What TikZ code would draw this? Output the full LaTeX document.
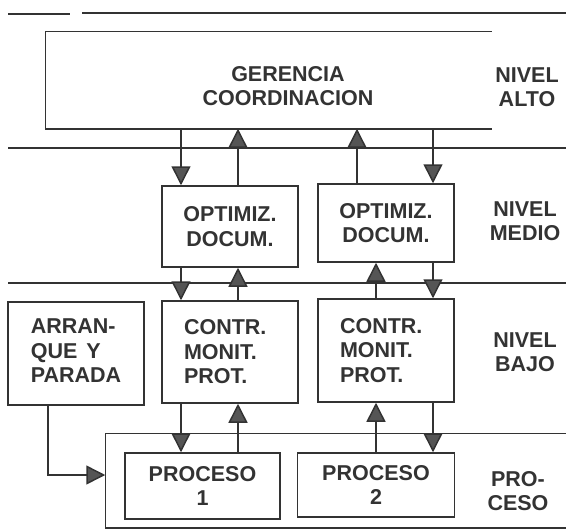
\documentclass[tikz,border=0pt]{standalone}
\usepackage{fontspec}
\setmainfont{Liberation Sans}
\usetikzlibrary{arrows.meta}

\definecolor{ink}{HTML}{333333}
\definecolor{headgray}{HTML}{555555}

\begin{document}
\begin{tikzpicture}[x=1pt,y=-1pt,line width=1.5pt,color=ink,
    box/.style={draw,rectangle,inner sep=0pt,minimum width=136pt},
    txt/.style={text=ink,font=\bfseries\fontsize{21.5}{24.5}\selectfont,align=center},
    lefttxt/.style={txt,text width=92pt,align=left},
    dn/.style={-{Triangle[length=19pt,width=19pt,fill=headgray]}}]
    \useasboundingbox (0,0) rectangle (566,531);

    \coordinate (xa) at (181,0);
    \coordinate (xb) at (238,0);
    \coordinate (xc) at (357,0);
    \coordinate (xd) at (433,0);
    \coordinate (xe) at (376,0);
    \coordinate (xf) at (48,0);

    % level separators
    \draw (8,14) -- (70,14);
    \draw (82,13) -- (566,13);
    \draw (8,148) -- (566,148);
    \draw (8,283) -- (566,283);

    % high level
    \node[minimum width=445pt,minimum height=96pt] (gerbox) at (268.5,80) {};
    \draw (gerbox.north east) -- (gerbox.north west) -- (gerbox.south west) -- (gerbox.south east); % open right
    \node[txt] (ger) at (288,86) {GERENCIA\\COORDINACION};
    \node[txt] (alto) at (527,87) {NIVEL\\ALTO};

    % middle level
    \node[box,txt,minimum height=81pt] (opt1) at (230,226.5) {OPTIMIZ.\\DOCUM.};
    \node[box,txt,minimum height=78pt] (opt2) at (386,223) {OPTIMIZ.\\DOCUM.};
    \node[txt] (medio) at (525,221) {NIVEL\\MEDIO};

    % low level
    \node[box,txt,minimum height=103pt] (arr) at (76,353.5) {\begin{tabular}{@{}l@{}}ARRAN-\\QUE\hspace{9pt}Y\\PARADA\end{tabular}};
    \node[box,lefttxt,minimum height=102pt] (con1) at (230,352) {CONTR.\\MONIT.\\PROT.};
    \node[box,lefttxt,minimum height=103pt] (con2) at (386,350.5) {CONTR.\\MONIT.\\PROT.};
    \node[txt] (bajo) at (525,352) {NIVEL\\BAJO};

    % process
    \node[minimum width=460pt,minimum height=93pt] (probox) at (336,480.5) {};
    \draw (probox.north east) -- (probox.north west) -- (probox.south west) -- (probox.south east); % open right
    \node[box,txt,minimum width=155pt,minimum height=66pt] (pro1) at (202.5,486) {PROCESO\\1};
    \node[box,txt,minimum width=157pt,minimum height=64pt] (pro2) at (376,485) {PROCESO\\2};
    \node[txt] (proceso) at (518,491) {PRO-\\CESO};

    % links high - middle
    \draw[dn] (gerbox.south -| xa) -- (opt1.north -| xa);
    \draw[dn] (opt1.north -| xb) -- (gerbox.south -| xb);
    \draw[dn] (opt2.north -| xc) -- (gerbox.south -| xc);
    \draw[dn] (gerbox.south -| xd) -- (opt2.north -| xd);

    % links middle - low
    \draw[dn] (opt1.south -| xa) -- (con1.north -| xa);
    \draw[dn] (con1.north -| xb) -- (opt1.south -| xb);
    \draw[dn] (con2.north -| xe) -- (opt2.south -| xe);
    \draw[dn] (opt2.south -| xd) -- (con2.north -| xd);

    % links low - process
    \draw[dn] (con1.south -| xa) -- (pro1.north -| xa);
    \draw[dn] (pro1.north -| xb) -- (con1.south -| xb);
    \draw[dn] (pro2.north -| xe) -- (con2.south -| xe);
    \draw[dn] (con2.south -| xd) -- (pro2.north -| xd);
    \draw[dn] (arr.south -| xf) |- ([yshift=5.5pt]probox.west);

\end{tikzpicture}
\end{document}
